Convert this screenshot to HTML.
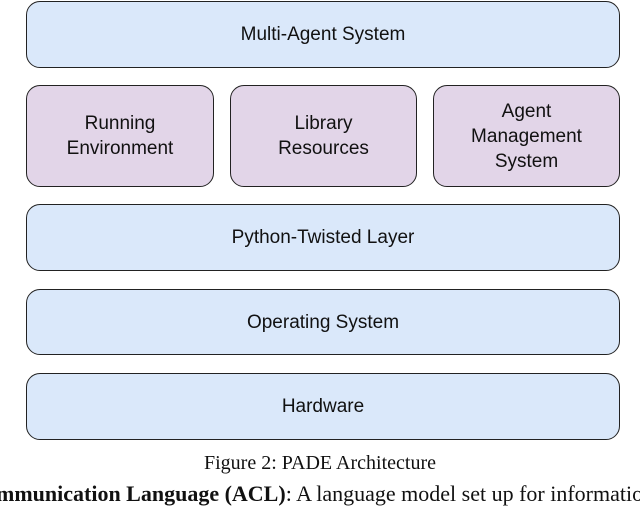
<!DOCTYPE html>
<html><head><meta charset="utf-8"><style>
body{margin:0;width:640px;height:503px;background:#fff;position:relative;overflow:hidden;font-family:"Liberation Sans",sans-serif}
.b{position:absolute;box-sizing:border-box;border:1.5px solid #222;border-radius:14px;display:flex;align-items:center;justify-content:center;text-align:center;font-size:19px;color:#111;line-height:25px}
.bl{background:#dae8fa}.pu{background:#e2d5e8}
.t{position:absolute;left:0;width:640px;text-align:center;font-family:"Liberation Serif",serif;color:#111;white-space:nowrap}
</style></head><body>
<div class="b bl" style="left:26px;top:1px;width:594px;height:67px">Multi-Agent System</div>
<div class="b pu" style="left:26px;top:85px;width:188px;height:102px">Running<br>Environment</div>
<div class="b pu" style="left:230px;top:85px;width:187px;height:102px">Library<br>Resources</div>
<div class="b pu" style="left:433px;top:85px;width:187px;height:102px">Agent<br>Management<br>System</div>
<div class="b bl" style="left:26px;top:204px;width:594px;height:67px">Python-Twisted Layer</div>
<div class="b bl" style="left:26px;top:289px;width:594px;height:66px">Operating System</div>
<div class="b bl" style="left:26px;top:373px;width:594px;height:67px">Hardware</div>
<div class="t" style="top:452px;font-size:20px">Figure 2: PADE Architecture</div>
<div class="t" style="top:481px;font-size:22px;left:-4px;width:700px;text-align:left"><b>mmunication Language (ACL)</b>: A language model set up for information</div>
</body></html>
